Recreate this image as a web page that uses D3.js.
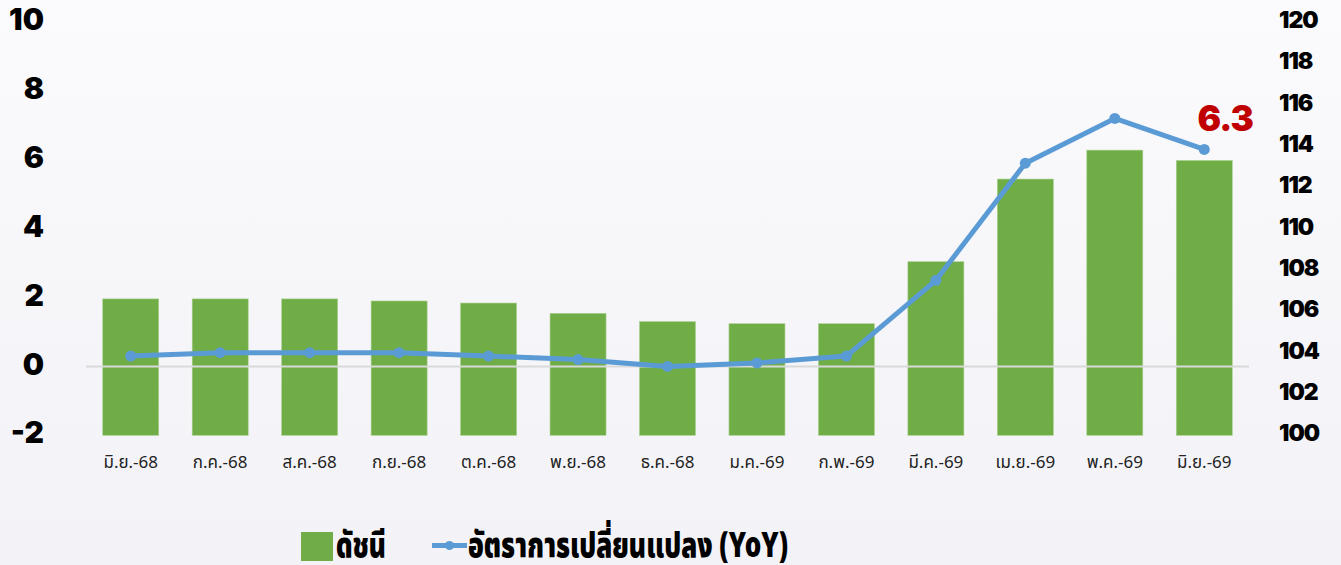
<!DOCTYPE html>
<html><head><meta charset="utf-8">
<script src="https://cdn.jsdelivr.net/npm/d3@7"></script>
<style>
html,body{margin:0;padding:0;}
body{width:1341px;height:565px;overflow:hidden;}
</style></head>
<body><svg id="c" width="1341" height="565"></svg>
<script>
const categories = ["มิ.ย.-68","ก.ค.-68","ส.ค.-68","ก.ย.-68","ต.ค.-68","พ.ย.-68","ธ.ค.-68","ม.ค.-69","ก.พ.-69","มี.ค.-69","เม.ย.-69","พ.ค.-69","มิ.ย.-69"];
const indexValues = [106.6,106.6,106.6,106.5,106.4,105.9,105.5,105.4,105.4,108.4,112.4,113.8,113.3];
const yoyValues = [0.3,0.4,0.4,0.4,0.3,0.2,0.0,0.1,0.3,2.5,5.9,7.2,6.3];
const leftTicks = [-2,0,2,4,6,8,10];
const rightTicks = [100,102,104,106,108,110,112,114,116,118,120];
const seriesNames = ["ดัชนี","อัตราการเปลี่ยนแปลง (YoY)"];
const lastLabel = "6.3";

const numFont = "Inter, Lato, 'Noto Sans', sans-serif";
const svg = d3.select("#c");
const defs = svg.append("defs");
const grad = defs.append("linearGradient").attr("id","bg").attr("x1",0).attr("y1",0).attr("x2",0).attr("y2",1);
grad.append("stop").attr("offset","0%").attr("stop-color","#fbfbfd");
grad.append("stop").attr("offset","100%").attr("stop-color","#f2f2f7");
svg.append("rect").attr("width",1341).attr("height",565).attr("fill","url(#bg)");

const x = d3.scaleBand().domain(categories).range([86,1249]).paddingInner(0.374).paddingOuter(0.187);
const yL = d3.scaleLinear().domain([-2,10]).range([435.3,22]);
const yR = d3.scaleLinear().domain([100,120]).range([435.3,22]);

// bars
svg.append("g").selectAll("rect").data(indexValues).join("rect")
  .attr("x",(d,i)=>x(categories[i]))
  .attr("width",x.bandwidth())
  .attr("y",d=>yR(d))
  .attr("height",d=>yR(100)-yR(d))
  .attr("fill","#70ad47")
  .attr("stroke","#a9d08e").attr("stroke-width",0.6);

// zero line
svg.append("line").attr("x1",86).attr("x2",1249).attr("y1",yL(0)).attr("y2",yL(0))
  .attr("stroke","#d9d9d9").attr("stroke-width",2);

// line
const cx = (i)=>x(categories[i])+x.bandwidth()/2;
const line = d3.line().x((d,i)=>cx(i)).y(d=>yL(d));
svg.append("path").datum(yoyValues).attr("d",line)
  .attr("fill","none").attr("stroke","#5b9bd5").attr("stroke-width",5).attr("stroke-linejoin","round");
svg.append("g").selectAll("circle").data(yoyValues).join("circle")
  .attr("cx",(d,i)=>cx(i)).attr("cy",d=>yL(d)).attr("r",5.5).attr("fill","#5b9bd5");

// last label
svg.append("text").attr("x",cx(categories.length-1)+21).attr("y",yL(yoyValues[yoyValues.length-1])-18)
  .attr("text-anchor","middle").attr("font-family",numFont).attr("font-weight",900)
  .attr("font-size",35).attr("letter-spacing",-1).attr("fill","#c00000").text(lastLabel);

// left axis
const axL = d3.axisLeft(yL).tickValues(leftTicks).tickSize(0).tickPadding(0).tickFormat(d=>d<0?"-"+Math.abs(d):d);
const gL = svg.append("g").attr("transform","translate(44,-2)").call(axL);
gL.select(".domain").remove();
gL.selectAll("text").attr("font-family",numFont).attr("font-weight",900)
  .attr("font-size",30).attr("fill","#000").attr("text-anchor","end");

// right axis
const axR = d3.axisRight(yR).tickValues(rightTicks).tickSize(0).tickPadding(0);
const gR = svg.append("g").attr("transform","translate(1279,-2)").call(axR);
gR.select(".domain").remove();
gR.selectAll("text").attr("font-family",numFont).attr("font-weight",900)
  .attr("font-size",23).attr("letter-spacing",-1).attr("fill","#000").attr("text-anchor","start");

// x axis
const axX = d3.axisBottom(x).tickSize(0).tickPadding(0);
const gX = svg.append("g").attr("transform","translate(0,456)").call(axX);
gX.select(".domain").remove();
gX.selectAll("text").attr("font-family","'Noto Sans Thai','Noto Sans', sans-serif")
  .attr("font-size",17).attr("fill","#222");

// legend
const lg = svg.append("g");
lg.append("rect").attr("x",301).attr("y",532).attr("width",32).attr("height",29).attr("fill","#70ad47");
lg.append("text").attr("x",336).attr("y",557).attr("font-family","'Noto Sans Thai','Noto Sans', sans-serif")
  .attr("font-weight",900).attr("font-size",35).attr("fill","#000")
  .attr("textLength",50).attr("lengthAdjust","spacingAndGlyphs").text(seriesNames[0]);
lg.append("line").attr("x1",432).attr("x2",467).attr("y1",545.5).attr("y2",545.5)
  .attr("stroke","#5b9bd5").attr("stroke-width",5);
lg.append("circle").attr("cx",449.5).attr("cy",545.5).attr("r",4.5).attr("fill","#5b9bd5");
lg.append("text").attr("x",468).attr("y",557).attr("font-family","'Noto Sans Thai','Noto Sans', sans-serif")
  .attr("font-weight",900).attr("font-size",35).attr("fill","#000")
  .attr("textLength",320).attr("lengthAdjust","spacingAndGlyphs").text(seriesNames[1]);
</script>
</body></html>
